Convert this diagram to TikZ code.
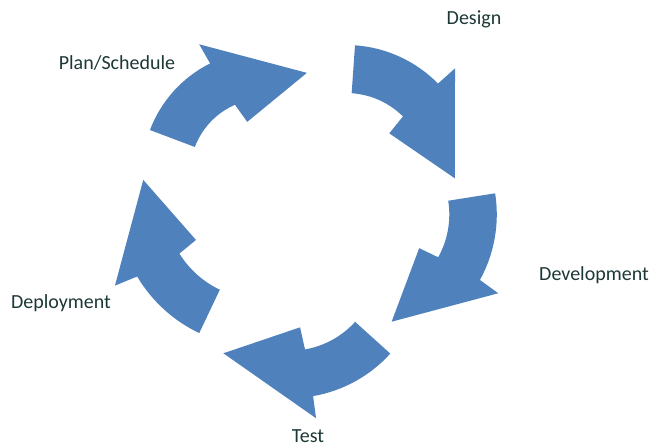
\documentclass[tikz,border=0pt]{standalone}
\usepackage{fontspec}
\setmainfont{Carlito}
\definecolor{cyclefillc}{HTML}{4F81BD}
\definecolor{labelc}{RGB}{28,56,54}
\tikzset{
  cyclefill/.style={fill=cyclefillc},
  steplabel/.style={anchor=base, text=labelc, font=\fontsize{20}{24}\selectfont, inner sep=0pt}
}
\begin{document}
\begin{tikzpicture}[x=1pt,y=1pt]
\useasboundingbox (0,0) rectangle (651,447);
% Arrow 1 (Plan/Schedule -> Design)
\begin{scope}[shift={(265,273.5)}]
\fill[cyclefill] (159.3:123pt) arc[start angle=159.3,end angle=116.5,radius=123pt]
  -- (117:145pt) -- (67.4:109pt) -- (109:54.6pt) -- (113.6:75pt)
  arc[start angle=113.6,end angle=159.3,radius=75pt] -- cycle;
\end{scope}
% Arrow 2 (Design -> Development)
\begin{scope}[shift={(346,273)}]
\fill[cyclefill] (86:129pt) arc[start angle=86,end angle=44.5,radius=129pt]
  -- (44.1:151.8pt) -- (-2.3:109pt) -- (43.2:59.4pt) -- (45.3:81pt)
  arc[start angle=45.3,end angle=86,radius=81pt] -- cycle;
\end{scope}
% Arrow 3 (Development -> Test)
\begin{scope}[shift={(361.3,232.5)}]
\fill[cyclefill] (9:135.5pt) arc[start angle=9,end angle=-28.9,radius=135.5pt]
  -- (-29.9:158pt) -- (-74.2:111.4pt) -- (-30.2:67pt) -- (-29.1:88pt)
  arc[start angle=-29.1,end angle=9,radius=88pt] -- cycle;
\end{scope}
% Arrow 4 (Test -> Deployment)
\begin{scope}[shift={(290.1,183.9)}]
\fill[cyclefill] (-42.1:135pt) arc[start angle=-42.1,end angle=-80.2,radius=135pt]
  -- (-80.5:157.3pt) -- (-126.5:112.2pt) -- (-81.2:65pt) -- (-80.2:87.6pt)
  arc[start angle=-80.2,end angle=-42.1,radius=87.6pt] -- cycle;
\end{scope}
% Arrow 5 (Deployment -> Plan/Schedule)
\begin{scope}[shift={(261,244)}]
\fill[cyclefill] (244.6:144pt) arc[start angle=244.6,end angle=210.7,radius=144pt]
  -- (209.5:167.8pt) -- (168.9:120pt) -- (209.6:74.8pt) -- (211.8:96pt)
  arc[start angle=211.8,end angle=244.6,radius=96pt] -- cycle;
\end{scope}
% Labels
\node[steplabel] (design) at (474,422) {Design};
\node[steplabel] (plan) at (117,377) {Plan/Schedule};
\node[steplabel] (dev) at (594,166) {Development};
\node[steplabel] (deploy) at (61,138) {Deployment};
\node[steplabel] (test) at (308,4) {Test};
\end{tikzpicture}
\end{document}
